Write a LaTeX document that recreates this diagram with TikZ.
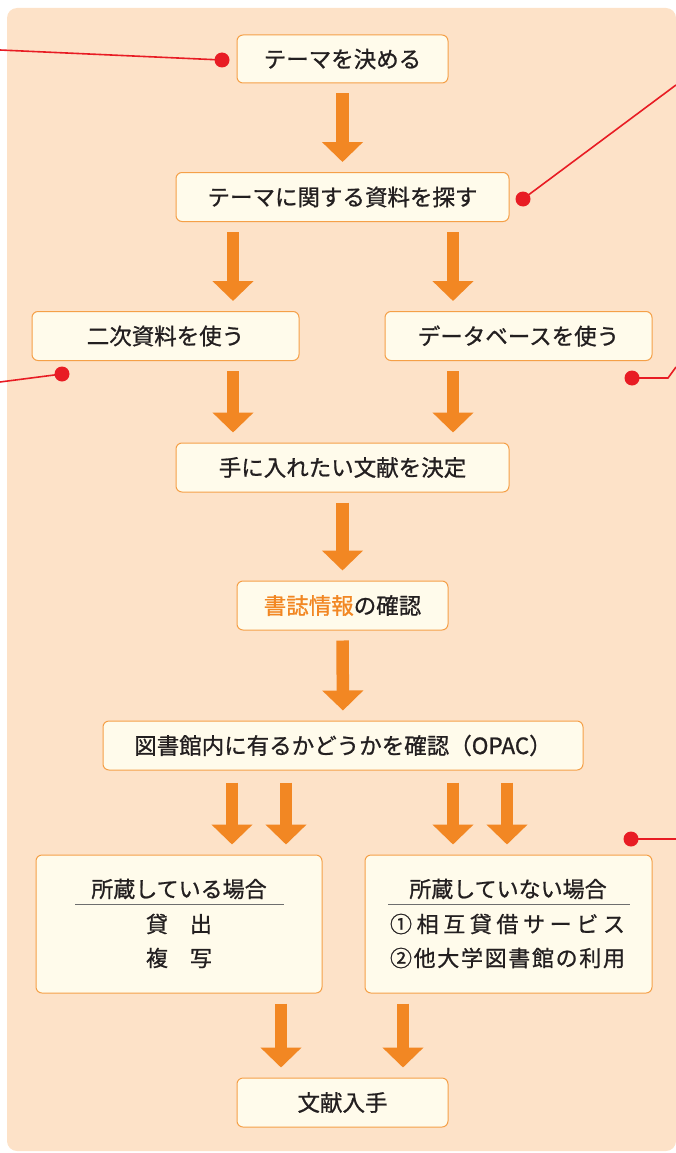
\documentclass[tikz,border=0pt]{standalone}
\usepackage{fontspec}
\setmainfont{Noto Sans CJK JP}[FakeBold=0.9]
\usetikzlibrary{arrows.meta,calc}
\definecolor{panel}{RGB}{253,226,200}
\definecolor{boxfill}{RGB}{255,251,235}
\definecolor{boxline}{RGB}{245,160,72}
\definecolor{arrowc}{RGB}{242,135,35}
\definecolor{redc}{RGB}{232,28,36}
\definecolor{ink}{RGB}{35,31,32}
\definecolor{rule}{RGB}{110,110,110}
\begin{document}
\begin{tikzpicture}[x=1pt,y=-1pt,
  box/.style={draw=boxline, line width=1pt, fill=boxfill, rounded corners=6pt,
    inner sep=0pt, text=ink, font=\fontsize{22.5}{26}\selectfont},
  lbl/.style={inner sep=0pt, text=ink, font=\fontsize{22}{26}\selectfont},
  flow/.style={draw=arrowc, line width=12.5pt, -{Triangle[width=40pt,length=20pt]},
    shorten <=10pt, shorten >=10pt},
  redline/.style={draw=redc, line width=1.6pt},
  reddot/.style={fill=redc},
  uline/.style={draw=rule, line width=1pt}]
\useasboundingbox (0,0) rectangle (676,1153);
% panel
\fill[panel, rounded corners=10pt] (7,8) rectangle (676,1151);

% boxes
\node[box, minimum width=211pt, minimum height=48pt] (b1) at (342.5,59) {テーマを決める};
\node[box, minimum width=333pt, minimum height=49pt] (b2) at (342.5,197) {テーマに関する資料を探す};
\node[box, minimum width=267pt, minimum height=49pt] (b3) at (165.5,336) {二次資料を使う};
\node[box, minimum width=267pt, minimum height=49pt] (b4) at (518.5,336) {データベースを使う};
\node[box, minimum width=333pt, minimum height=49pt] (b5) at (342.5,467.5) {手に入れたい文献を決定};
\node[box, minimum width=211pt, minimum height=49pt] (b6) at (342.5,605.5) {\textcolor{arrowc}{書誌情報}の確認};
\node[box, minimum width=480pt, minimum height=49pt] (b7) at (343,745.5) {図書館内に有るかどうかを確認（OPAC）};
\node[box, minimum width=286pt, minimum height=138pt] (b8) at (179,924) {};
\node[box, minimum width=287pt, minimum height=138pt] (b9) at (508.5,924) {};
\node[box, minimum width=211pt, minimum height=49pt] (b10) at (342.5,1102.5) {文献入手};

% contents of the two case boxes
\node[lbl] (t8a) at (179,889) {所蔵している場合};
\draw[uline] (75,904) -- (284,904);
\node[lbl] (t8b) at (179,924) {貸　出};
\node[lbl] (t8c) at (179,958) {複　写};
\node[lbl] (t9a) at (508,889) {所蔵していない場合};
\draw[uline] (388,904) -- (630,904);
\node[lbl] (t9b) at (507.5,924) {\makebox[235pt]{①\hfill 相\hfill 互\hfill 貸\hfill 借\hfill サ\hfill ー\hfill ビ\hfill ス}};
\node[lbl] (t9c) at (507.5,958) {\makebox[235pt]{②\hfill 他\hfill 大\hfill 学\hfill 図\hfill 書\hfill 館\hfill の\hfill 利\hfill 用}};

% flow arrows
\draw[flow] (b1.south) -- (b2.north);
\draw[flow] (233,0 |- b2.south) -- (233,0 |- b3.north);
\draw[flow] (453,0 |- b2.south) -- (453,0 |- b4.north);
\draw[flow] (233,0 |- b3.south) -- (233,0 |- b5.north);
\draw[flow] (453,0 |- b4.south) -- (453,0 |- b5.north);
\draw[flow] (b5.south) -- (b6.north);
\draw[flow] (b6.south) -- (b7.north);
\draw[flow, shorten <=12pt] (232,0 |- b7.south) -- (232,0 |- b8.north);
\draw[flow, shorten <=12pt] (286,0 |- b7.south) -- (286,0 |- b8.north);
\draw[flow, shorten <=12pt] (453,0 |- b7.south) -- (453,0 |- b9.north);
\draw[flow, shorten <=12pt] (507,0 |- b7.south) -- (507,0 |- b9.north);
\draw[flow] (281,0 |- b8.south) -- (281,0 |- b10.north);
\draw[flow] (403,0 |- b9.south) -- (403,0 |- b10.north);

% red callout lines
\coordinate (d1) at (222,60);   \coordinate (e1) at (0,50);
\coordinate (d2) at (523,199);  \coordinate (e2) at (676,85);
\coordinate (d3) at (62,374);   \coordinate (e3) at (0,382);
\coordinate (d4) at (632,378);  \coordinate (k4) at (668,378); \coordinate (e4) at (676,367);
\coordinate (d5) at (631,839);  \coordinate (e5) at (676,839);
\draw[redline] (d1) -- (e1);
\draw[redline] (d2) -- (e2);
\draw[redline] (d3) -- (e3);
\draw[redline] (d4) -- (k4) -- (e4);
\draw[redline] (d5) -- (e5);
\foreach \d in {d1,d2,d3,d4,d5} \fill[reddot] (\d) circle[radius=7.5pt];
\end{tikzpicture}
\end{document}
